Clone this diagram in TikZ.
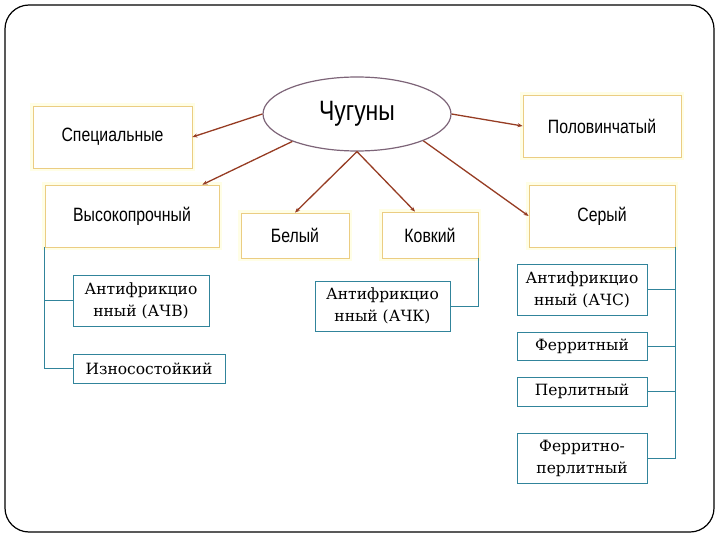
\documentclass[tikz,border=0pt]{standalone}
\usepackage{fontspec}
\setmainfont{DejaVu Serif}
\newfontfamily\narrowsans[FakeStretch=0.82]{Liberation Sans}
\usetikzlibrary{arrows.meta,shapes.geometric}
\definecolor{arrowred}{RGB}{150,60,35}
\definecolor{boxgold}{RGB}{235,205,130}
\definecolor{boxteal}{RGB}{49,132,155}
\definecolor{ovalgray}{RGB}{125,100,120}

\begin{document}
\begin{tikzpicture}[x=1pt, y=-1pt, >={Stealth[length=5pt,width=4pt]},
	goldbox/.style={draw=boxgold, fill=white, line width=0.8pt, preaction={draw=yellow!10, line width=6pt}, inner sep=0pt, align=center, font=\narrowsans\fontsize{19.3}{21}\selectfont},
	tealbox/.style={draw=boxteal, fill=white, line width=0.9pt, inner sep=0pt, align=center, font=\fontsize{15.5}{22}\selectfont},
	link/.style={arrowred, line width=1.3pt, ->},
	branch/.style={boxteal, line width=0.9pt}]
	\useasboundingbox (0,0) rectangle (720,540);
	\draw[line width=1.2pt, rounded corners=24pt] (5,5) rectangle (714,532);
	\node[ellipse, draw=ovalgray, fill=white, line width=1.2pt, minimum width=188pt, minimum height=74pt, inner sep=0pt, font=\narrowsans\fontsize{28}{30}\selectfont] (chug) at (357,114) {Чугуны};
	\node[goldbox, minimum width=159pt, minimum height=62pt] (spec) at (112.5,137) {Специальные};
	\node[goldbox, minimum width=174pt, minimum height=62pt] (vysok) at (132,216) {Высокопрочный};
	\node[goldbox, minimum width=108pt, minimum height=45pt] (bel) at (295,235.5) {Белый};
	\node[goldbox, minimum width=96pt, minimum height=46pt] (kovk) at (430,235) {Ковкий};
	\node[goldbox, minimum width=158pt, minimum height=62pt] (polov) at (602,126) {Половинчатый};
	\node[goldbox, minimum width=146pt, minimum height=62pt] (sery) at (602,216) {Серый};
	\node[tealbox, minimum width=136pt, minimum height=51pt] (achv) at (141,300.5) {Антифрикцио\\нный (АЧВ)};
	\node[tealbox, minimum width=152pt, minimum height=29pt] (iznos) at (149,368.5) {Износостойкий};
	\node[tealbox, minimum width=135pt, minimum height=50pt] (achk) at (382.5,306) {Антифрикцио\\нный (АЧК)};
	\node[tealbox, minimum width=130pt, minimum height=51pt] (achs) at (582,289.5) {Антифрикцио\\нный (АЧС)};
	\node[tealbox, minimum width=130pt, minimum height=28pt] (ferr) at (582,346) {Ферритный};
	\node[tealbox, minimum width=130pt, minimum height=29pt] (perl) at (582,391.5) {Перлитный};
	\node[tealbox, minimum width=130pt, minimum height=50pt] (ferrperl) at (582,458) {Ферритно-\\перлитный};
	\draw[link] (chug.west) -- (spec.east);
	\draw[link] (chug.203) -- ([xshift=-17pt]vysok.north east);
	\draw[link] (chug.south) -- (bel.north);
	\draw[link] (chug.south) -- ([xshift=-15pt]kovk.north);
	\draw[link] (chug.east) -- (polov.west);
	\draw[link] (chug.-22) -- (sery.west);
	\draw[branch] (vysok.south west) |- (achv.west);
	\draw[branch] (vysok.south west) |- (iznos.west);
	\draw[branch] (kovk.south east) |- (achk.east);
	\draw[branch] (sery.south east) |- (achs.east);
	\draw[branch] (sery.south east) |- (ferr.east);
	\draw[branch] (sery.south east) |- (perl.east);
	\draw[branch] (sery.south east) |- (ferrperl.east);
\end{tikzpicture}
\end{document}
